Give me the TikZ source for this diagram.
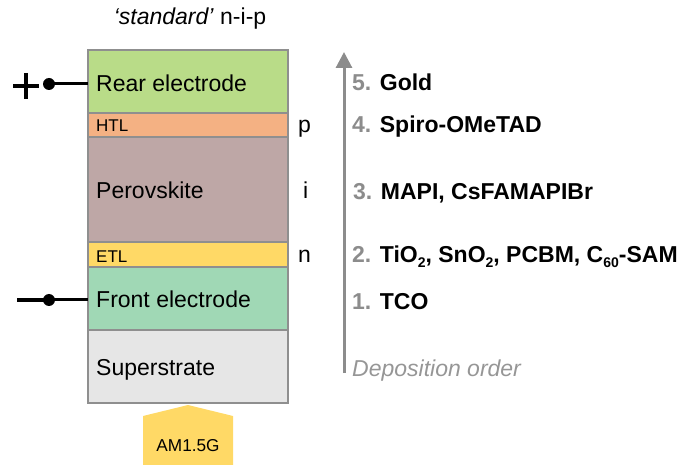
\documentclass[tikz,border=0pt]{standalone}
\usepackage{fontspec}
\setmainfont{Liberation Sans}
\usetikzlibrary{arrows.meta,calc}
\definecolor{rearg}{RGB}{185,220,136}
\definecolor{htlc}{RGB}{244,177,131}
\definecolor{peroc}{RGB}{190,167,166}
\definecolor{etlc}{RGB}{255,217,102}
\definecolor{frontc}{RGB}{160,216,181}
\definecolor{subc}{RGB}{230,230,230}
\definecolor{bordergray}{RGB}{143,143,143}
\definecolor{arrowgray}{RGB}{140,140,140}
\definecolor{numgray}{RGB}{140,140,140}
\definecolor{depgray}{RGB}{150,150,150}
\newcommand\mysubs[1]{\raisebox{-4.5pt}{\fontsize{14}{14}\selectfont #1}}
\begin{document}
\begin{tikzpicture}[x=1pt,y=-1pt,
  layer/.style={draw=bordergray, line width=1.3pt, rectangle, minimum width=200pt, inner sep=0pt, outer sep=0pt},
  big/.style={font=\fontsize{23}{27}\selectfont, inner sep=0pt, anchor=base west},
  small/.style={font=\fontsize{17}{20}\selectfont, inner sep=0pt, anchor=base west},
  rlabel/.style={font=\fontsize{23}{27}\selectfont\bfseries, inner sep=0pt, anchor=base west},
  wire/.style={line width=3pt, black},
  sign/.style={line width=4.2pt, black},
  dot/.style={fill=black}
]
\useasboundingbox (0,0) rectangle (686,465);

% layers
\node[layer, fill=rearg, minimum height=63pt] (rear) at (188,81.5) {};
\node[layer, fill=htlc, minimum height=24pt] (htl) at (188,125) {};
\node[layer, fill=peroc, minimum height=105pt] (pero) at (188,189.5) {};
\node[layer, fill=etlc, minimum height=25pt] (etl) at (188,254.5) {};
\node[layer, fill=frontc, minimum height=63pt] (front) at (188,298.5) {};
\node[layer, fill=subc, minimum height=73pt] (sub) at (188,366.5) {};

% layer texts
\node[big] (treear) at (96,92) {Rear electrode};
\node[small] (thtl) at (96,132) {HTL};
\node[big] (tpero) at (96,199) {Perovskite};
\node[small] (tetl) at (96,263) {ETL};
\node[big] (tfront) at (96,308) {Front electrode};
\node[big] (tsub) at (96,375) {Superstrate};

% n-i-p labels
\node[big] (lp) at (298,133) {p};
\node[big] (li) at (303,199) {i};
\node[big] (ln) at (298,263) {n};

% title
\node[font=\fontsize{23}{27}\selectfont, inner sep=0pt, anchor=base] (title) at (190,25) {\textit{‘standard’} n-i-p};

% wires
\coordinate (plusdot) at (49,84);
\coordinate (minusdot) at (49,300);
\draw[wire] (plusdot) -- (plusdot -| rear.west);
\draw[wire] (minusdot) -- (minusdot -| front.west);
\fill[dot] (plusdot) circle (6pt);
\fill[dot] (minusdot) circle (6pt);
\coordinate (plus) at (26,86);
\draw[sign] ($(plus)+(-13,0)$) -- ($(plus)+(13,0)$);
\draw[sign] ($(plus)+(0,-13)$) -- ($(plus)+(0,13)$);
\coordinate (minus) at (30,300);
\draw[sign] ($(minus)+(-13,0)$) -- (minusdot);

% AM1.5G arrow
\fill[etlc] (188,405) -- (233,416) -- (233,465) -- (143,465) -- (143,416) -- cycle;
\node[font=\fontsize{17.2}{20}\selectfont, inner sep=0pt, anchor=base] (am) at (188,451) {AM1.5G};

% deposition arrow
\coordinate (arrbot) at (344,373);
\coordinate (arrtop) at (344,52);
\draw[line width=3pt, arrowgray, -{Triangle[width=16pt,length=16pt]}] (arrbot) -- (arrtop);

% right labels
\node[rlabel] (d5) at (352,91) {\textcolor{numgray}{5.} Gold};
\node[rlabel] (d4) at (352,133) {\textcolor{numgray}{4.} Spiro-OMeTAD};
\node[rlabel] (d3) at (353,200) {\textcolor{numgray}{3.} MAPI, CsFAMAPIBr};
\node[rlabel] (d2) at (352,263) {\textcolor{numgray}{2.} TiO\mysubs{2}, SnO\mysubs{2}, PCBM, C\mysubs{60}-SAM};
\node[rlabel] (d1) at (352,310) {\textcolor{numgray}{1.} TCO};
\node[font=\fontsize{23}{27}\selectfont\itshape, text=depgray, inner sep=0pt, anchor=base west] (dep) at (352,376) {Deposition order};
\end{tikzpicture}
\end{document}
